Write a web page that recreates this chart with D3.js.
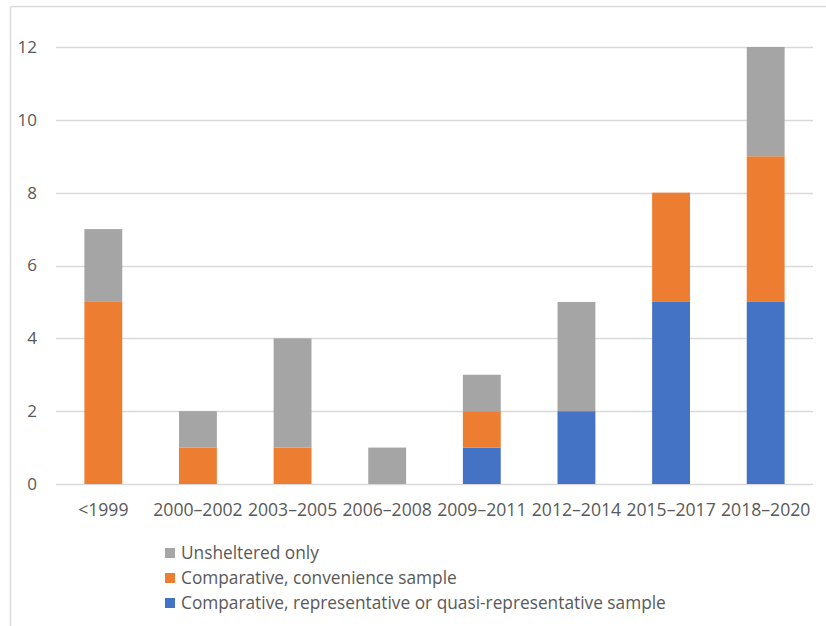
<!DOCTYPE html>
<html>
<head>
<meta charset="utf-8">
<script src="https://cdn.jsdelivr.net/npm/d3@7"></script>
<style>
  body { margin: 0; background: #fff; }
  svg { display: block; }
  text { font-family: "Open Sans", sans-serif; fill: #595959; }
</style>
</head>
<body>
<div id="chart"></div>
<script>
const categories = ["<1999", "2000–2002", "2003–2005", "2006–2008", "2009–2011", "2012–2014", "2015–2017", "2018–2020"];
const representative = [0, 0, 0, 0, 1, 2, 5, 5];
const convenience = [5, 1, 1, 0, 1, 0, 3, 4];
const unsheltered = [2, 1, 3, 1, 1, 3, 0, 3];
const yTicks = [0, 2, 4, 6, 8, 10, 12];

const seriesKeys = ["representative", "convenience", "unsheltered"];
const seriesColors = { representative: "#4472C4", convenience: "#ED7D31", unsheltered: "#A5A5A5" };
const legendItems = [
  { key: "unsheltered", label: "Unsheltered only" },
  { key: "convenience", label: "Comparative, convenience sample" },
  { key: "representative", label: "Comparative, representative or quasi-representative sample" }
];

const W = 826, H = 626;
const plot = { left: 56, right: 813, top: 47, bottom: 484 };

const svg = d3.select("#chart")
  .append("svg")
  .attr("width", W)
  .attr("height", H);

// outer frame (top + left edge visible)
svg.append("line").attr("x1", 10.5).attr("x2", W).attr("y1", 6.5).attr("y2", 6.5)
  .attr("stroke", "#d9d9d9").attr("stroke-width", 1.5);
svg.append("line").attr("x1", 10.5).attr("x2", 10.5).attr("y1", 6.5).attr("y2", H)
  .attr("stroke", "#d9d9d9").attr("stroke-width", 1.5);

const table = categories.map((c, i) => ({
  cat: c,
  representative: representative[i],
  convenience: convenience[i],
  unsheltered: unsheltered[i]
}));

const stacked = d3.stack().keys(seriesKeys)(table);

const x = d3.scaleBand()
  .domain(categories)
  .range([plot.left, plot.right])
  .paddingInner(0.6)
  .paddingOuter(0.3);

const y = d3.scaleLinear()
  .domain([0, 12])
  .range([plot.bottom, plot.top]);

// gridlines
svg.append("g")
  .selectAll("line")
  .data(yTicks)
  .enter().append("line")
  .attr("x1", plot.left)
  .attr("x2", plot.right)
  .attr("y1", d => Math.round(y(d)) + 0.5)
  .attr("y2", d => Math.round(y(d)) + 0.5)
  .attr("stroke", "#d9d9d9")
  .attr("stroke-width", 1.5);

// y labels
svg.append("g")
  .selectAll("text")
  .data(yTicks)
  .enter().append("text")
  .attr("x", 37)
  .attr("y", d => y(d))
  .attr("dy", "0.35em")
  .attr("text-anchor", "end")
  .attr("font-size", 17)
  .text(d => d);

// bars
svg.append("g")
  .selectAll("g")
  .data(stacked)
  .enter().append("g")
  .attr("fill", d => seriesColors[d.key])
  .selectAll("rect")
  .data(d => d)
  .enter().append("rect")
  .attr("x", d => x(d.data.cat))
  .attr("width", x.bandwidth())
  .attr("y", d => y(d[1]))
  .attr("height", d => y(d[0]) - y(d[1]));

// x labels
svg.append("g")
  .selectAll("text")
  .data(categories)
  .enter().append("text")
  .attr("x", d => x(d) + x.bandwidth() / 2)
  .attr("y", 510)
  .attr("dy", "0.35em")
  .attr("text-anchor", "middle")
  .attr("font-size", 17.6)
  .text(d => d);

// legend
const legend = svg.append("g")
  .selectAll("g")
  .data(legendItems)
  .enter().append("g")
  .attr("transform", (d, i) => `translate(165,${553 + i * 25})`);

legend.append("rect")
  .attr("x", 0)
  .attr("y", -5)
  .attr("width", 10)
  .attr("height", 10)
  .attr("fill", d => seriesColors[d.key]);

legend.append("text")
  .attr("x", 16)
  .attr("y", 0)
  .attr("dy", "0.35em")
  .attr("font-size", 17.3)
  .text(d => d.label);
</script>
</body>
</html>
